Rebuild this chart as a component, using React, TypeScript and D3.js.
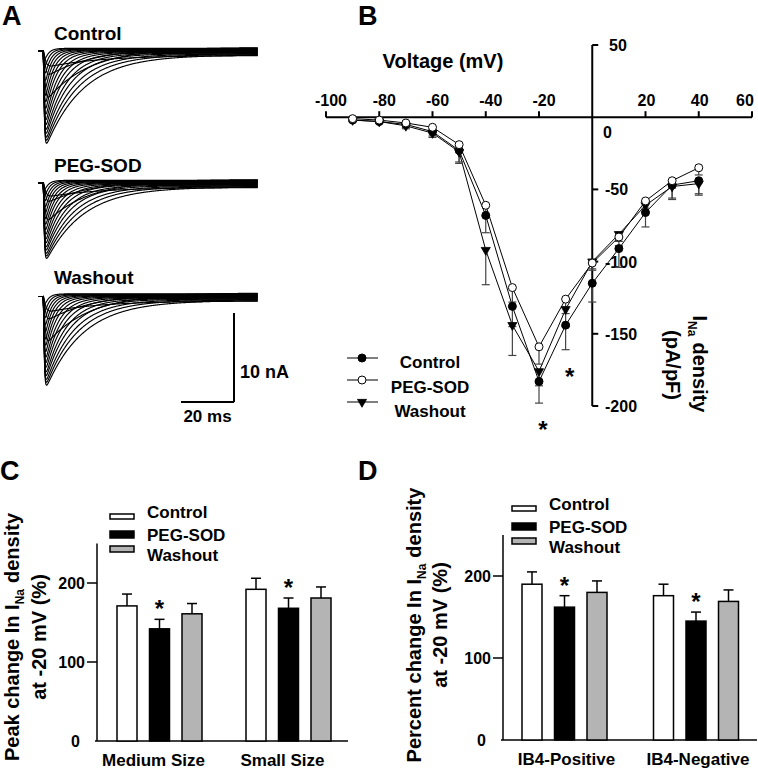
import React from 'react';
import * as d3 from 'd3';

const FONT = "'Liberation Sans', Arial, Helvetica, sans-serif";

// ---------- Panel A: current traces (family of Na currents) ----------
const conditions = ['Control', 'PEG-SOD', 'Washout'];
const conditionPeakNA = [10.0, 8.1, 9.6];
const traceRelAmp = [1.0, 0.97, 0.94, 0.9, 0.86, 0.81, 0.76, 0.7, 0.64, 0.57, 0.5, 0.42, 0.34, 0.26, 0.18, 0.1, 0.55, 0.3, 0.12];
const traceTimeToPeak = [1.3, 1.3, 1.25, 1.2, 1.2, 1.15, 1.1, 1.1, 1.0, 1.0, 0.95, 0.9, 0.9, 0.85, 0.8, 0.8, 2.0, 2.4, 2.8];
const traceDecayTau = [14, 12, 10.5, 9, 7.8, 6.7, 5.8, 5.0, 4.3, 3.7, 3.2, 2.8, 2.4, 2.1, 1.8, 1.6, 16, 18, 20];
const traceSustained = [-0.45, -0.4, -0.35, -0.3, -0.25, -0.2, -0.15, -0.1, -0.05, 0, 0.05, 0.1, 0.15, 0.2, 0.25, 0.3, 0.35, 0.4, -0.5];

// ---------- Panel B: I-V relationship ----------
const voltages = [-90, -80, -70, -60, -50, -40, -30, -20, -10, 0, 10, 20, 30, 40];
const controlIV = [-2, -3, -5, -10, -23, -68, -131, -183, -144, -115, -91, -66, -47, -44];
const controlErr = [1, 1, 2, 3, 8, 12, 14, 15, 17, 13, 13, 10, 10, 9];
const pegIV = [-1, -2, -4, -7, -19, -61, -118, -159, -126, -101, -83, -58, -44, -35];
const pegErr = [1, 1, 1, 2, 4, 8, 10, 12, 10, 5, 6, 5, 5, 5];
const washIV = [-2, -3, -6, -11, -24, -92, -144, -176, -133, -100, -81, -61, -48, -46];
const washErr = [1, 1, 2, 3, 8, 24, 21, 10, 12, 5, 5, 5, 8, 8];
const xTicksB = [-100, -80, -60, -40, -20, 0, 20, 40, 60];
const yTicksB = [50, 0, -50, -100, -150, -200];
const sigVoltagesB = [-20, -10];

// ---------- Panel C ----------
const seriesNames = ['Control', 'PEG-SOD', 'Washout'];
const groupsC = ['Medium Size', 'Small Size'];
const controlC = [171, 192];
const pegC = [142, 168];
const washC = [161, 181];
const controlCErr = [15, 14];
const pegCErr = [12, 13];
const washCErr = [13, 14];
const sigC = [true, true];

// ---------- Panel D ----------
const groupsD = ['IB4-Positive', 'IB4-Negative'];
const controlD = [190, 176];
const pegD = [162, 145];
const washD = [180, 169];
const controlDErr = [15, 14];
const pegDErr = [14, 11];
const washDErr = [14, 14];
const sigD = [true, true];

const barTicks = [0, 100, 200];

function solveTauM(tp: number, th: number) {
  let lo = 1e-4, hi = tp;
  for (let i = 0; i < 60; i++) {
    const mid = (lo + hi) / 2;
    const g = mid * Math.log(1 + (3 * th) / mid);
    if (g < tp) lo = mid; else hi = mid;
  }
  return (lo + hi) / 2;
}

function PanelA() {
  const tScale = d3.scaleLinear().domain([-1.9, 81.1]).range([38, 258]);
  const times = [...d3.range(-1.9, 6, 0.03), ...d3.range(6, 81.11, 0.2)];
  const line = d3.line<[number, number]>();
  const baselines = [51, 183, 296.5];
  const labelY = [40, 172, 284];
  const pxPerNA = 8.9;
  const sbX = 234, sbY = 402;
  const msLen = tScale(20) - tScale(0);
  const nALen = pxPerNA * 10;
  return (
    <g>
      <text x={2} y={25} fontSize={27}>A</text>
      {conditions.map((c, ci) => {
        const y = d3.scaleLinear().domain([0, -10]).range([baselines[ci], baselines[ci] + pxPerNA * 10]);
        return (
          <g key={c}>
            <text x={54} y={labelY[ci]} fontSize={19}>{c}</text>
            {traceRelAmp.map((ra, k) => {
              const th = traceDecayTau[k];
              const tp = traceTimeToPeak[k];
              const tm = solveTauM(tp, th);
              const f = (t: number) => (t <= 0 ? 0 : Math.pow(1 - Math.exp(-t / tm), 3) * Math.exp(-t / th));
              const fmax = f(tp);
              const A = conditionPeakNA[ci] * ra;
              const pts = times.map((t) => {
                const I = t <= 0 ? 0 : (-A * f(t)) / fmax + traceSustained[k] * (1 - Math.exp(-t / 0.8));
                return [tScale(t), y(I)] as [number, number];
              });
              return <path key={k} d={line(pts) || ''} fill="none" stroke="#000" strokeWidth={1.15} />;
            })}
          </g>
        );
      })}
      <line x1={sbX} y1={sbY - nALen} x2={sbX} y2={sbY} stroke="#000" strokeWidth={2} />
      <line x1={sbX - msLen} y1={sbY} x2={sbX} y2={sbY} stroke="#000" strokeWidth={2} />
      <text x={240} y={378} fontSize={18}>10 nA</text>
      <text x={sbX - msLen / 2} y={422} fontSize={17} textAnchor="middle">20 ms</text>
    </g>
  );
}

function Marker({ kind, x, y }: { kind: string; x: number; y: number }) {
  if (kind === 'tri') {
    const d = d3.symbol().type(d3.symbolTriangle).size(36)() || '';
    return <path d={d} transform={`translate(${x},${y}) rotate(180)`} fill="#000" stroke="#000" strokeWidth={0.8} />;
  }
  return <circle cx={x} cy={y} r={4} fill={kind === 'open' ? '#fff' : '#000'} stroke="#000" strokeWidth={1} />;
}

function PanelB() {
  const x = d3.scaleLinear().domain([-100, 60]).range([326, 752]);
  const y = d3.scaleLinear().domain([50, -200]).range([45, 406]);
  const series = [
    { name: 'Control', vals: controlIV, err: controlErr, kind: 'filled' },
    { name: 'PEG-SOD', vals: pegIV, err: pegErr, kind: 'open' },
    { name: 'Washout', vals: washIV, err: washErr, kind: 'tri' },
  ];
  const line = d3.line<number>().x((_, i) => x(voltages[i])).y((v) => y(v));
  const drawOrder = [2, 0, 1];
  const legendRows = [358, 380, 402];
  const legendTextY = [368, 393, 417];
  return (
    <g>
      <text x={358} y={25} fontSize={27}>B</text>
      {/* axes */}
      <line x1={x(-100)} y1={y(0)} x2={x(60)} y2={y(0)} stroke="#000" strokeWidth={2} />
      <line x1={x(0)} y1={y(50)} x2={x(0)} y2={y(-200)} stroke="#000" strokeWidth={2} />
      {xTicksB.filter((t) => t !== 0).map((t) => (
        <g key={t}>
          <line x1={x(t)} y1={y(0)} x2={x(t)} y2={y(0) - 6} stroke="#000" strokeWidth={2} />
          <text x={Math.min(x(t) + (t < 0 ? 5 : 1), 745)} y={106} fontSize={16} textAnchor="middle">{t}</text>
        </g>
      ))}
      {yTicksB.map((t) => (
        <g key={t}>
          {t !== 0 && <line x1={x(0)} y1={y(t)} x2={x(0) + 6} y2={y(t)} stroke="#000" strokeWidth={2} />}
          <text x={t === 0 ? 603 : t === 50 ? 609 : 605} y={t === 0 ? y(t) + 21 : y(t) + 6} fontSize={16}>{t}</text>
        </g>
      ))}
      <text x={443} y={68} fontSize={20} textAnchor="middle">Voltage (mV)</text>
      <text transform={`translate(693,364) rotate(90)`} fontSize={20} textAnchor="middle">
        I<tspan fontSize={12} dy={5}>Na</tspan>
        <tspan dy={-5} dx={6}>density</tspan>
      </text>
      <text transform={`translate(666,365) rotate(90)`} fontSize={20} textAnchor="middle">(pA/pF)</text>
      {/* lines */}
      {series.map((s) => (
        <path key={s.name} d={line(s.vals) || ''} fill="none" stroke="#000" strokeWidth={1} />
      ))}
      {/* error bars */}
      {series.map((s) => (
        <g key={s.name + 'e'}>
          {s.vals.map((v, i) => (
            <g key={i}>
              <line x1={x(voltages[i])} y1={y(v)} x2={x(voltages[i])} y2={y(v - s.err[i])} stroke="#444" strokeWidth={1.2} />
              <line x1={x(voltages[i]) - 4} y1={y(v - s.err[i])} x2={x(voltages[i]) + 4} y2={y(v - s.err[i])} stroke="#444" strokeWidth={1.2} />
            </g>
          ))}
        </g>
      ))}
      {/* markers */}
      {drawOrder.map((si) => (
        <g key={series[si].name + 'm'}>
          {series[si].vals.map((v, i) => (
            <Marker key={i} kind={series[si].kind} x={x(voltages[i])} y={y(v)} />
          ))}
        </g>
      ))}
      {/* significance */}
      {sigVoltagesB.map((sv) => {
        const i = voltages.indexOf(sv);
        return (
          <text key={sv} x={x(sv) + 4} y={y(controlIV[i] - controlErr[i]) + 35} fontSize={24} textAnchor="middle">*</text>
        );
      })}
      {/* legend */}
      {series.map((s, i) => (
        <g key={s.name + 'l'}>
          <line x1={347} y1={legendRows[i]} x2={378} y2={legendRows[i]} stroke="#000" strokeWidth={1} />
          <Marker kind={s.kind} x={362} y={legendRows[i]} />
          <text x={430} y={legendTextY[i]} fontSize={17} textAnchor="middle">{s.name}</text>
        </g>
      ))}
    </g>
  );
}

type BarProps = {
  letter: string;
  letterX: number;
  groups: string[];
  values: number[][];
  errs: number[][];
  sig: boolean[];
  axisX: number;
  axisRight: number;
  yZero: number;
  yTop: number;
  groupRange: [number, number];
  labelDx: number;
  labelY: number;
  legendX: number;
  legendTop: number;
  titleLine1: string;
  titleCenterY: number;
  titleX1: number;
  titleX2: number;
};

function BarPanel(p: BarProps) {
  const y = d3.scaleLinear().domain([0, 250]).range([p.yZero, p.yTop]);
  const gx = d3.scalePoint<string>().domain(p.groups).range(p.groupRange);
  const sx = d3.scalePoint<string>().domain(seriesNames).range([-32.5, 32.5]);
  const bw = 20;
  const fills = ['#fff', '#000', '#b4b4b4'];
  const lt = p.legendTop;
  const legendRects = [
    { y: lt, h: 5 },
    { y: lt + 17, h: 7 },
    { y: lt + 32, h: 6 },
  ];
  const legendText = [lt + 4, lt + 27, lt + 47];
  return (
    <g>
      <text x={p.letterX} y={480} fontSize={27}>{p.letter}</text>
      <line x1={p.axisX} y1={y(250)} x2={p.axisX} y2={y(0)} stroke="#000" strokeWidth={1.5} />
      <line x1={p.axisX - 2} y1={y(0)} x2={p.axisRight} y2={y(0)} stroke="#000" strokeWidth={1.5} />
      {barTicks.map((t) => (
        <g key={t}>
          {t !== 0 && <line x1={p.axisX - 10} y1={y(t)} x2={p.axisX} y2={y(t)} stroke="#000" strokeWidth={1.5} />}
          <text x={p.axisX - (t === 0 ? 17 : 12)} y={y(t) + 6} fontSize={16} textAnchor="end">{t}</text>
        </g>
      ))}
      {p.groups.map((g, gi) => (
        <g key={g}>
          {seriesNames.map((s, si) => {
            const cx = (gx(g) as number) + (sx(s) as number);
            const v = p.values[si][gi];
            const e = p.errs[si][gi];
            return (
              <g key={s}>
                <line x1={cx} y1={y(v)} x2={cx} y2={y(v + e)} stroke="#000" strokeWidth={1.5} />
                <line x1={cx - 5} y1={y(v + e)} x2={cx + 5} y2={y(v + e)} stroke="#000" strokeWidth={1.5} />
                <rect x={cx - bw / 2} y={y(v)} width={bw} height={y(0) - y(v)} fill={fills[si]} stroke="#000" strokeWidth={1.5} />
              </g>
            );
          })}
          {p.sig[gi] && (
            <text x={gx(g) as number} y={y(p.values[1][gi] + p.errs[1][gi]) - 2} fontSize={24} textAnchor="middle">*</text>
          )}
          <text x={(gx(g) as number) + p.labelDx} y={p.labelY} fontSize={17} textAnchor="middle">{g}</text>
        </g>
      ))}
      {seriesNames.map((s, si) => (
        <g key={s + 'lg'}>
          <rect x={p.legendX} y={legendRects[si].y} width={24} height={legendRects[si].h} fill={fills[si]} stroke="#000" strokeWidth={1.5} />
          <text x={p.legendX + 37} y={legendText[si]} fontSize={17}>{s}</text>
        </g>
      ))}
      <text transform={`translate(${p.titleX1},${p.titleCenterY}) rotate(-90)`} fontSize={20} textAnchor="middle">
        {p.titleLine1} I<tspan fontSize={12} dy={5}>Na</tspan>
        <tspan dy={-5} dx={6}>density</tspan>
      </text>
      <text transform={`translate(${p.titleX2},${p.titleCenterY}) rotate(-90)`} fontSize={20} textAnchor="middle">at -20 mV (%)</text>
    </g>
  );
}

export default function App() {
  return (
    <svg
      width={758}
      height={771}
      style={{ position: 'absolute', left: 0, top: 0, background: '#fff' }}
      fontFamily={FONT}
      fontWeight="bold"
    >
      <rect x={0} y={0} width={758} height={771} fill="#fff" />
      <PanelA />
      <PanelB />
      <BarPanel
        letter="C"
        letterX={0}
        groups={groupsC}
        values={[controlC, pegC, washC]}
        errs={[controlCErr, pegCErr, washCErr]}
        sig={sigC}
        axisX={97}
        axisRight={348}
        yZero={741}
        yTop={543.5}
        groupRange={[159.5, 288.5]}
        labelDx={-6}
        labelY={766}
        legendX={110}
        legendTop={514}
        titleLine1="Peak change In"
        titleCenterY={637}
        titleX1={19}
        titleX2={46}
      />
      <BarPanel
        letter="D"
        letterX={358}
        groups={groupsD}
        values={[controlD, pegD, washD]}
        errs={[controlDErr, pegDErr, washDErr]}
        sig={sigD}
        axisX={503}
        axisRight={757}
        yZero={740}
        yTop={535}
        groupRange={[564.5, 696]}
        labelDx={2}
        labelY={765}
        legendX={512}
        legendTop={506}
        titleLine1="Percent change In"
        titleCenterY={625}
        titleX1={421}
        titleX2={447}
      />
    </svg>
  );
}
